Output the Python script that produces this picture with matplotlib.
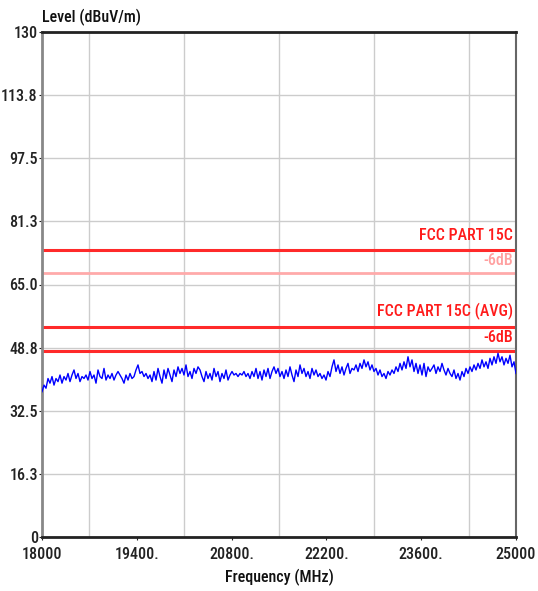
import numpy as np
import matplotlib
matplotlib.use("Agg")
import matplotlib.pyplot as plt
from matplotlib import font_manager as fm

# ---- data ----
level = [
    # 18000 .. ~19130 MHz
    37.4, 39.1, 38.3, 40.8, 39.6, 41.3, 39.1, 40.8, 40.0, 41.7, 39.6, 41.3, 40.4, 42.1, 40.0, 41.7,
    43.0, 40.8, 42.1, 40.0, 41.3, 40.8, 41.7, 40.4, 42.6, 40.8, 41.7, 39.6, 43.0, 41.3, 40.8, 43.4,
    40.4, 41.7, 40.8, 42.1, 40.4, 41.7, 42.6,
    # ~19160 .. ~20310 MHz
    41.7, 40.8, 39.6, 41.7, 40.4, 42.1, 40.8, 41.3, 43.0, 44.3, 42.1, 42.6, 41.3, 42.1, 40.8, 41.7,
    40.0, 42.6, 40.4, 43.4, 41.3, 39.6, 43.0, 40.8, 43.4, 41.7, 40.0, 43.0, 41.3, 43.8, 42.1, 43.4,
    41.7, 44.3, 41.3, 42.6, 40.8, 43.4, 42.1, 43.8,
    # ~20340 .. ~21470 MHz
    43.0, 41.3, 40.0, 42.6, 40.8, 42.1, 40.4, 43.4, 41.3, 42.6, 40.0, 42.1, 40.8, 43.0, 40.4, 41.7,
    42.6, 41.7, 42.1, 41.3, 42.1, 41.7, 42.6, 41.3, 42.1, 40.8, 42.6, 41.3, 43.4, 40.8, 42.6, 40.4,
    43.0, 41.3, 43.4, 40.8, 42.6, 43.8, 42.1,
    # ~21500 .. ~22590 MHz
    43.4, 41.3, 42.6, 40.8, 43.0, 41.3, 43.8, 41.7, 40.0, 43.0, 41.3, 44.3, 42.1, 43.4, 41.3, 42.6,
    40.8, 43.4, 41.7, 43.0, 41.3, 42.1, 40.8, 41.7, 40.4, 42.6, 41.3, 43.8, 45.6, 42.6, 44.3, 42.1,
    43.8, 41.7, 43.4, 44.7, 42.1, 43.4,
    # ~22620 .. ~23740 MHz
    43.0, 44.3, 42.6, 44.7, 43.4, 45.6, 43.8, 45.1, 43.0, 44.3, 42.6, 43.4, 41.7, 43.0, 41.3, 42.1,
    40.8, 42.6, 41.7, 43.0, 42.1, 43.8, 42.6, 44.7, 43.0, 45.1, 43.4, 46.4, 43.8, 45.6, 42.6, 44.7,
    42.1, 44.3, 41.7, 44.7, 41.3, 43.8, 42.6,
    # ~23770 .. 25000 MHz
    43.4, 44.3, 42.1, 43.8, 42.6, 44.7, 43.0, 41.7, 43.4, 42.1, 41.3, 43.0, 40.8, 42.1, 40.4, 42.6,
    41.3, 43.4, 42.1, 43.8, 42.6, 44.3, 43.0, 44.7, 43.4, 45.6, 43.8, 45.1, 43.4, 46.0, 44.3, 46.4,
    44.7, 47.3, 45.1, 46.4, 44.3, 46.0, 44.7, 46.8, 43.8, 45.1, 42.1,
]
f_start, f_stop = 18000, 25000
limit_levels = [74, 68, 54, 48]
limit_names = ["FCC PART 15C", "-6dB", "FCC PART 15C (AVG)", "-6dB"]
y_ticks = [0, 16.25, 32.5, 48.75, 65, 81.25, 97.5, 113.75, 130]
y_ticklabels = ["0", "16.3", "32.5", "48.8", "65.0", "81.3", "97.5", "113.8", "130"]
x_ticks = [18000, 19400, 20800, 22200, 23600, 25000]
x_ticklabels = ["18000", "19400.", "20800.", "22200.", "23600.", "25000"]

# ---- pick a narrow font if one is installed ----
family = "Liberation Sans"
stretch = "normal"
names = {f.name for f in fm.fontManager.ttflist}
for cand in ["Liberation Sans Narrow", "Arial Narrow", "Roboto Condensed",
             "Open Sans Condensed", "Noto Sans Condensed", "DejaVu Sans Condensed"]:
    if cand in names:
        family = cand
        break
else:
    for pref in ["Roboto", "Noto Sans", "Open Sans", "DejaVu Sans"]:
        hit = [f for f in fm.fontManager.ttflist if f.name == pref and
               (str(f.stretch) in ("condensed", "semi-condensed", "extra-condensed")
                or (isinstance(f.stretch, (int, float)) and f.stretch < 500))]
        if hit:
            family = pref
            stretch = "condensed"
            break

plt.rcParams["font.family"] = [family, "DejaVu Sans"]
plt.rcParams["font.stretch"] = stretch
FS = 11.5

fig = plt.figure(figsize=(5.38, 5.91), dpi=100)
ax = fig.add_axes([42 / 538, 1 - 537 / 591, 474 / 538, 505 / 591])

freq = np.linspace(f_start, f_stop, len(level))
ax.plot(freq, level, color="#0000ff", lw=1.0, zorder=3)

line_colors = ["#ff2a2a", "#ffaaaa", "#ff2a2a", "#ff2a2a"]
line_widths = [2.2, 2.0, 2.2, 2.2]
for lv, c, w in zip(limit_levels, line_colors, line_widths):
    ax.axhline(lv, color=c, lw=w, zorder=2)

label_y = [77.6, 71.3, 58.1, 51.3]
label_colors = ["#ff1a1a", "#ffa0a0", "#ff1a1a", "#ff1a1a"]
for name, yy, c in zip(limit_names, label_y, label_colors):
    ax.text(f_stop - 40, yy, name, color=c, ha="right", va="center", fontsize=FS,
            stretch=stretch, fontweight="medium")

ax.set_xlim(f_start, f_stop)
ax.set_ylim(0, 130)
ax.set_yticks(y_ticks)
ax.set_yticklabels(y_ticklabels)
ax.set_xticks(x_ticks)
ax.set_xticklabels(x_ticklabels)
ax.set_xticks(np.arange(f_start, f_stop + 1, 700), minor=True)
ax.tick_params(axis="both", which="major", length=2, width=0.8, labelsize=FS, pad=1,
               colors="#222222")
ax.tick_params(axis="x", which="major", pad=5)
ax.tick_params(axis="x", which="minor", length=0)
ax.grid(True, which="major", axis="y", color="#cccccc", lw=1.0)
ax.grid(True, which="minor", axis="x", color="#cccccc", lw=1.0)
ax.set_axisbelow(True)
for lab in ax.get_xticklabels() + ax.get_yticklabels():
    lab.set_fontweight("medium")

for side, c, w in [("top", "#222222", 2.0), ("bottom", "#222222", 2.0),
                   ("left", "#888888", 2.0), ("right", "#666666", 1.5)]:
    ax.spines[side].set_color(c)
    ax.spines[side].set_linewidth(w)

ax.set_xlabel("Frequency (MHz)", fontsize=FS, labelpad=5, color="#111111",
              fontweight="medium")
ax.text(0.0, 1.012, "Level (dBuV/m)", transform=ax.transAxes, ha="left", va="bottom",
        fontsize=FS, color="#111111", fontweight="medium")

fig.savefig("out.png", dpi=100)
